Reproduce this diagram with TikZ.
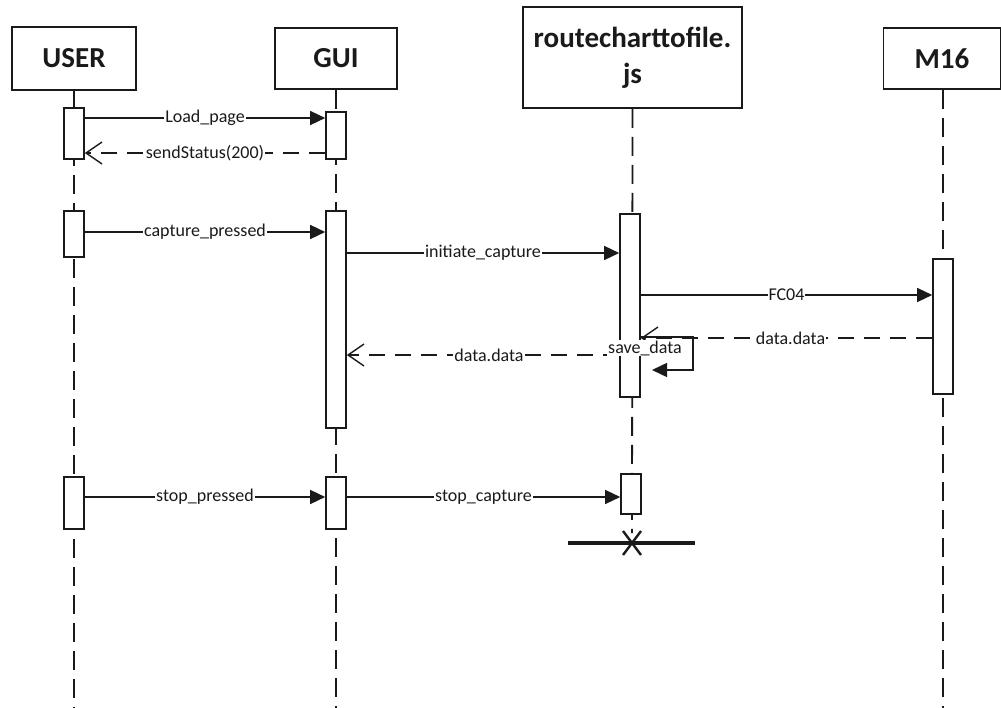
\documentclass[tikz,border=0pt]{standalone}
\usepackage{fontspec}
\setmainfont{Carlito}
\usetikzlibrary{arrows.meta}
\definecolor{ink}{HTML}{1A1A1A}
\begin{document}
\begin{tikzpicture}[x=1pt,y=-1pt,
  headbox/.style={draw=ink, line width=1.8pt, fill=white, align=center, inner sep=0pt,
    font=\fontsize{29}{36}\selectfont\bfseries, text=ink},
  actbox/.style={draw=ink, line width=1.6pt, fill=white, minimum width=20pt, inner sep=0pt, anchor=north},
  life/.style={draw=ink, line width=1.8pt, dash pattern=on 19pt off 9pt},
  msg/.style={draw=ink, line width=1.4pt, -{Triangle[length=15pt,width=14pt]}},
  ret/.style={draw=ink, line width=1.4pt, dash pattern=on 16pt off 10pt, -{Straight Barb[length=16pt,width=22pt,line width=1.4pt]}},
  lbl/.style={fill=white, inner sep=1pt, text=ink, font=\fontsize{18}{20}\selectfont},
  destroy/.style={draw=ink, line width=3.4pt}]
\useasboundingbox (0,0) rectangle (1001,708);

% heads
\node[headbox, minimum width=124pt, minimum height=63pt] (user) at (74,58.5) {USER};
\node[headbox, minimum width=122pt, minimum height=61pt] (gui) at (336,58.5) {GUI};
\node[headbox, minimum width=219pt, minimum height=101pt] (route) at (632.5,57.5) {routecharttofile.\\js};
\node[headbox, minimum width=117pt, minimum height=61pt] (m16) at (942,58.5) {M16};

% destruction point
\coordinate (xdest) at (632,543);
\coordinate (ubot) at (74,708);
\coordinate (gbot) at (336,708);
\coordinate (mbot) at (943,708);

% lifelines
\draw[life] (user.south) -- (ubot);
\draw[life] (gui.south) -- (gbot);
\draw[life] (route.south) -- ([yshift=10pt]xdest);
\draw[life] (m16.south -| mbot) -- (mbot);

% activations
\node[actbox, minimum height=51pt] (u1) at (74,107) {};
\node[actbox, minimum height=47pt] (g1) at (336,111) {};
\node[actbox, minimum height=46pt] (u2) at (74,210) {};
\node[actbox, minimum height=217pt] (g2) at (336,210) {};
\node[actbox, minimum height=183pt] (r1) at (630,213) {};
\node[actbox, minimum height=135pt] (m1) at (943,258) {};
\node[actbox, minimum height=52pt] (u3) at (74,476) {};
\node[actbox, minimum height=52pt] (g3) at (336,476) {};
\node[actbox, minimum height=40pt] (r2) at (631,473) {};

% messages
\draw[msg] (u1.east |- 0,118) -- node[lbl] {Load\_page} (g1.west |- 0,118);
\draw[ret] (g1.west |- 0,153) -- node[lbl] {sendStatus(200)} (u1.east |- 0,153);
\draw[msg] (u2.east |- 0,232) -- node[lbl] {capture\_pressed} (g2.west |- 0,232);
\draw[msg] (g2.east |- 0,253) -- node[lbl] {initiate\_capture} (r1.west |- 0,253);
\draw[msg] (r1.east |- 0,295) -- node[lbl] {FC04} (m1.west |- 0,295);
\draw[ret] (m1.west |- 0,338) -- node[lbl, xshift=4pt] {data.data} (r1.east |- 0,338);
\coordinate (sd1) at (693,337);
\coordinate (sd2) at (693,370);
\coordinate (sd3) at (652,370);
\draw[msg] (r1.east |- sd1) -- (sd1) -- (sd2) -- (sd3);
\draw[ret] (r1.west |- 0,355) -- node[lbl, xshift=6pt] {data.data} (g2.east |- 0,355);
\node[lbl] (savelbl) at (645,348) {save\_data};
\draw[msg] (u3.east |- 0,497) -- node[lbl] {stop\_pressed} (g3.west |- 0,497);
\draw[msg] (g3.east |- 0,497) -- node[lbl] {stop\_capture} (r2.west |- 0,497);

% destruction
\draw[destroy] ([xshift=-64pt]xdest) -- ([xshift=63pt]xdest);
\draw[ink, line width=2.4pt] ([shift={(-9pt,-12pt)}]xdest) -- ([shift={(9pt,12pt)}]xdest)
  ([shift={(9pt,-12pt)}]xdest) -- ([shift={(-9pt,12pt)}]xdest);
\end{tikzpicture}
\end{document}
